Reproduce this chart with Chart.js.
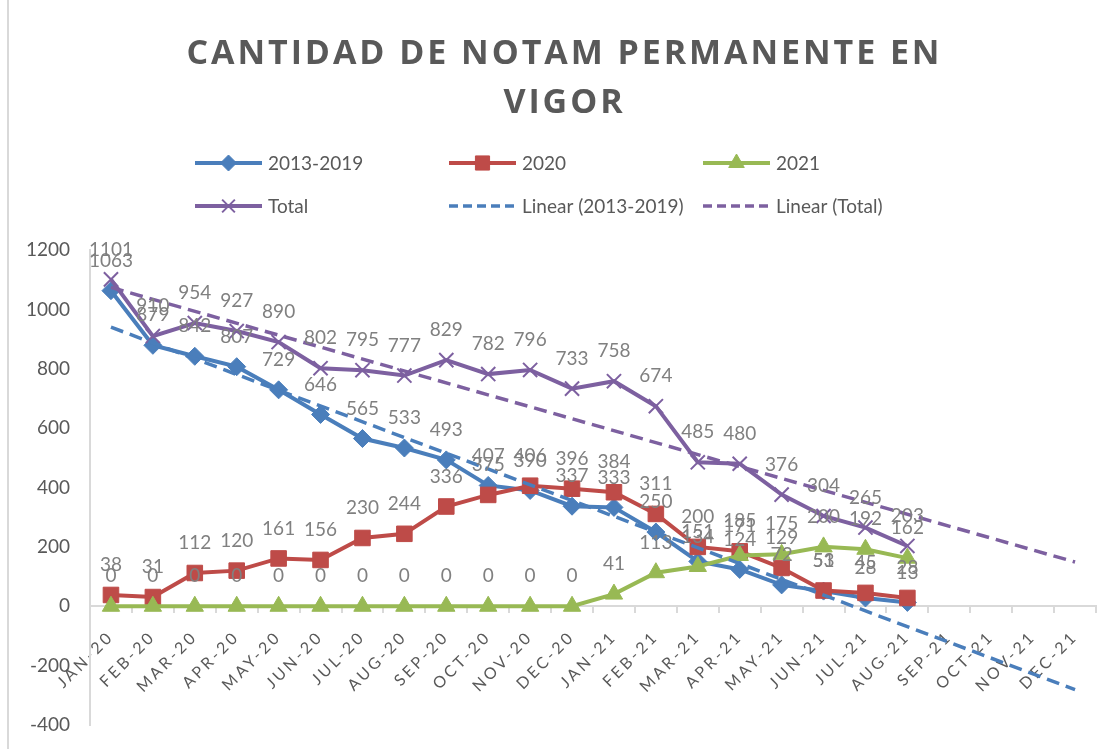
<!DOCTYPE html>
<html>
<head>
<meta charset="utf-8">
<script src="https://cdn.jsdelivr.net/npm/chart.js@4"></script>
<style>
  html, body { margin: 0; padding: 0; background: #fff; }
</style>
</head>
<body>
<canvas id="myChart" width="1114" height="749"></canvas>
<script>
const months = ['JAN-20', 'FEB-20', 'MAR-20', 'APR-20', 'MAY-20', 'JUN-20', 'JUL-20', 'AUG-20',
  'SEP-20', 'OCT-20', 'NOV-20', 'DEC-20', 'JAN-21', 'FEB-21', 'MAR-21', 'APR-21', 'MAY-21',
  'JUN-21', 'JUL-21', 'AUG-21', 'SEP-21', 'OCT-21', 'NOV-21', 'DEC-21'];

const v2013 = [1063, 879, 842, 807, 729, 646, 565, 533, 493, 407, 390, 337, 333, 250, 151, 124, 72, 51, 28, 13];
const v2020 = [38, 31, 112, 120, 161, 156, 230, 244, 336, 375, 406, 396, 384, 311, 200, 185, 129, 53, 45, 28];
const v2021 = [0, 0, 0, 0, 0, 0, 0, 0, 0, 0, 0, 0, 41, 113, 134, 171, 175, 200, 192, 162];
const vTotal = [1101, 910, 954, 927, 890, 802, 795, 777, 829, 782, 796, 733, 758, 674, 485, 480, 376, 304, 265, 203];

// trendline end values (first and last month)
const trend2013Ends = [940, -281];
const trendTotalEnds = [1074, 149];

const yTicks = [-400, -200, 0, 200, 400, 600, 800, 1000, 1200];

const titleLines = ['CANTIDAD DE NOTAM PERMANENTE EN', 'VIGOR'];

const BLUE = '#4a7ebb', RED = '#be4b48', GREEN = '#98b954', PURPLE = '#7d60a0';
const GREY = '#595959';

const ends = e => months.map((m, i) => i === 0 ? e[0] : (i === months.length - 1 ? e[1] : null));

const ctx = document.getElementById('myChart');

const series = [
  { label: '2013-2019', data: v2013, color: BLUE, style: 'rectRot', r: 9, order: 4 },
  { label: '2020', data: v2020, color: RED, style: 'rect', r: 11, order: 3 },
  { label: '2021', data: v2021, color: GREEN, style: 'triangle', r: 10, order: 2 },
  { label: 'Total', data: vTotal, color: PURPLE, style: 'crossRot', r: 10, order: 1 },
];

const datasets = series.map(s => ({
  label: s.label,
  data: s.data,
  borderColor: s.color,
  backgroundColor: s.color,
  borderWidth: 4,
  pointStyle: s.style,
  pointRadius: s.r,
  pointHoverRadius: s.r,
  pointBorderWidth: s.style === 'crossRot' ? 2 : 1,
  tension: 0,
  order: s.order
}));

datasets.push({
  label: 'Linear (2013-2019)', data: ends(trend2013Ends), borderColor: BLUE,
  borderWidth: 3.5, borderDash: [13, 7], pointRadius: 0, spanGaps: true, order: 0
});
datasets.push({
  label: 'Linear (Total)', data: ends(trendTotalEnds), borderColor: PURPLE,
  borderWidth: 3.5, borderDash: [13, 7], pointRadius: 0, spanGaps: true, order: 0
});

const legendItems = [
  { text: '2013-2019', color: BLUE, style: 'rectRot', r: 8, col: 0, row: 0 },
  { text: '2020', color: RED, style: 'rect', r: 10, col: 1, row: 0 },
  { text: '2021', color: GREEN, style: 'triangle', r: 9, col: 2, row: 0 },
  { text: 'Total', color: PURPLE, style: 'crossRot', r: 9, col: 0, row: 1 },
  { text: 'Linear (2013-2019)', color: BLUE, dash: true, col: 1, row: 1 },
  { text: 'Linear (Total)', color: PURPLE, dash: true, col: 2, row: 1 },
];

const decor = {
  id: 'decor',
  beforeDraw(chart) {
    const c = chart.ctx;
    c.save();
    c.strokeStyle = '#d9d9d9';
    c.lineWidth = 2;
    c.beginPath();
    c.moveTo(8, 0);
    c.lineTo(8, chart.height);
    c.stroke();
    c.restore();
    const xs = chart.scales.x;
    if (!xs._spaced) {
      const orig = xs.drawLabels.bind(xs);
      xs.drawLabels = function (area) {
        const cc = this.ctx;
        cc.save();
        cc.letterSpacing = '3px';
        orig(area);
        cc.restore();
      };
      xs._spaced = true;
    }
  },
  afterDatasetsDraw(chart) {
    const c = chart.ctx;
    c.save();
    c.font = '19px Lato';
    c.fillStyle = '#808080';
    c.textAlign = 'center';
    c.textBaseline = 'middle';
    for (let d = 0; d < series.length; d++) {
      const meta = chart.getDatasetMeta(d);
      meta.data.forEach((el, i) => {
        const v = series[d].data[i];
        if (v === null || v === undefined) return;
        c.fillText(String(v), el.x, el.y - 30);
      });
    }
    c.restore();
  },
  afterDraw(chart) {
    const c = chart.ctx;
    c.save();
    // title
    c.fillStyle = GREY;
    c.font = 'bold 34px "Open Sans"';
    c.textAlign = 'left';
    c.textBaseline = 'alphabetic';
    const w0 = c.measureText(titleLines[0]).width;
    const spacing = (753 - w0) / (titleLines[0].length - 1);
    c.letterSpacing = spacing + 'px';
    const baselines = [64, 113];
    titleLines.forEach((t, i) => {
      const w = c.measureText(t).width - spacing;
      c.fillText(t, 563 - w / 2, baselines[i]);
    });
    c.letterSpacing = '0px';
    // legend
    const cols = [195, 449, 703], rows = [163, 206];
    c.font = '19px Lato';
    c.textBaseline = 'middle';
    legendItems.forEach(it => {
      const x = cols[it.col], y = rows[it.row];
      c.strokeStyle = it.color;
      c.fillStyle = it.color;
      c.lineWidth = it.dash ? 3.5 : 4;
      c.setLineDash(it.dash ? [9, 5] : []);
      c.beginPath();
      c.moveTo(x, y);
      c.lineTo(x + 67, y);
      c.stroke();
      c.setLineDash([]);
      if (it.style) {
        c.lineWidth = it.style === 'crossRot' ? 2 : 1;
        Chart.helpers.drawPoint(c, { pointStyle: it.style, radius: it.r, borderWidth: c.lineWidth, rotation: 0 }, x + 33.5, y);
      }
      c.fillStyle = GREY;
      c.fillText(it.text, x + 73, y + 1);
    });
    c.restore();
  }
};

const config = {
  type: 'line',
  data: { labels: months, datasets: datasets },
  options: {
    responsive: false,
    animation: false,
    layout: { padding: { left: 0, right: 18, top: 250, bottom: 24 } },
    plugins: {
      legend: { display: false },
      title: { display: false },
      tooltip: { enabled: false }
    },
    scales: {
      x: {
        position: { y: 0 },
        offset: true,
        afterFit: s => { s.height = 0; s.paddingTop = 0; s.paddingBottom = 0; },
        grid: { offset: true, drawOnChartArea: false, drawTicks: true, tickLength: 6, color: '#d9d9d9', lineWidth: 2 },
        border: { color: '#d9d9d9', width: 2 },
        ticks: {
          color: GREY, font: { family: 'Lato', size: 16 },
          minRotation: 45, maxRotation: 45, autoSkip: false, padding: 15
        }
      },
      y: {
        min: yTicks[0],
        max: yTicks[yTicks.length - 1],
        afterFit: s => { s.width = 90; s.paddingTop = 0; s.paddingBottom = 0; },
        afterBuildTicks: s => { s.ticks = yTicks.map(v => ({ value: v })); },
        grid: { drawOnChartArea: false, drawTicks: false },
        border: { color: '#d9d9d9', width: 2 },
        ticks: { color: GREY, font: { family: 'Lato', size: 19 }, padding: 20, callback: v => String(v) }
      }
    }
  },
  plugins: [decor]
};

new Chart(ctx, config);
</script>
</body>
</html>
